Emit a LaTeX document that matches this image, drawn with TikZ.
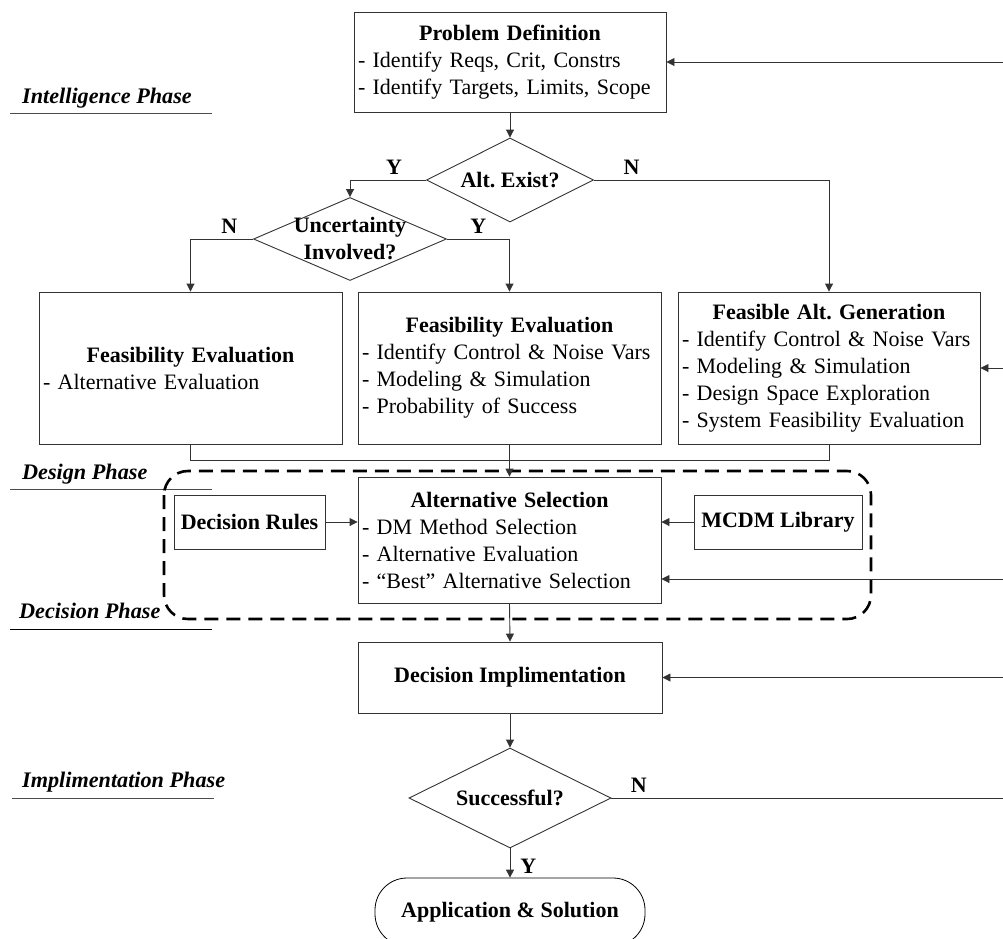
\documentclass[tikz,border=0pt]{standalone}
\usepackage{fontspec}
\setmainfont{Liberation Serif}
\usetikzlibrary{shapes.geometric,arrows.meta}
\setlength{\parindent}{0pt}
\frenchspacing
\newcommand{\boxhead}[1]{\makebox[\hsize]{\textbf{#1}}}

\begin{document}
\begin{tikzpicture}[x=1pt,y=-1pt,
    every node/.style={font=\fontsize{22}{27}\selectfont},
    stage/.style={draw=black!80,line width=0.9pt,inner xsep=4pt,inner ysep=0pt,align=left},
    diam/.style={draw=black!80,line width=0.9pt,shape=diamond,inner sep=0pt},
    phase/.style={anchor=base west,inner sep=0pt,font=\fontsize{22.2}{27}\selectfont\bfseries\itshape},
    arr/.style={draw=black!80,line width=0.9pt,-{Triangle[length=8pt,width=8pt]}},
    line/.style={draw=black!80,line width=0.9pt},
    yn/.style={font=\fontsize{22}{27}\selectfont\bfseries,inner sep=5pt}]
\clip (0,0) rectangle (1003,938);

\node[phase] (intel) at (22,103) {Intelligence Phase};
\node[phase] (design) at (22,479) {Design Phase};
\node[phase] (decis) at (19,618) {Decision Phase};
\node[phase] (implm) at (22,787) {Implimentation Phase};
\draw[black!70,line width=1pt] (10,113) -- (212,113);
\draw[black!70,line width=1pt] (10,489) -- (212,489);
\draw[black,line width=1pt] (10,629) -- (212,629);
\draw[black!70,line width=1pt] (12,798) -- (214,798);

\draw[line width=2.6pt,dash pattern=on 14pt off 8pt,rounded corners=24pt] (164,471) rectangle (871,619);

\node[stage,text width=304pt,minimum height=100pt] (pd) at (510,62)
  {\boxhead{Problem Definition}\\- Identify Reqs, Crit, Constrs\\- Identify Targets, Limits, Scope};
\node[diam,minimum width=167pt,minimum height=84pt,label={center:\textbf{Alt. Exist?}}] (altx) at (510,180) {};
\node[diam,minimum width=193pt,minimum height=83pt,
  label={[align=center]center:{\textbf{Uncertainty}\\\textbf{Involved?}}}] (unc) at (350,239) {};

\node[stage,text width=295pt,minimum height=152pt] (fe1) at (190.5,368)
  {\boxhead{Feasibility Evaluation}\\- Alternative Evaluation};
\node[stage,text width=295pt,minimum height=152pt] (fe2) at (509.5,368)
  {\boxhead{Feasibility Evaluation}\\- Identify Control \& Noise Vars\\- Modeling \& Simulation\\- Probability of Success};
\node[stage,text width=294pt,minimum height=152pt] (fag) at (829,368)
  {\boxhead{Feasible Alt. Generation}\\- Identify Control \& Noise Vars\\- Modeling \& Simulation\\- Design Space Exploration\\- System Feasibility Evaluation};

\node[stage,text width=295pt,minimum height=126pt] (sel) at (509.5,540)
  {\boxhead{Alternative Selection}\\- DM Method Selection\\- Alternative Evaluation\\- ``Best'' Alternative Selection};
\node[stage,align=center,minimum width=151pt,minimum height=54pt] (rules) at (249.5,522) {\textbf{Decision Rules}};
\node[stage,align=center,minimum width=168pt,minimum height=54pt] (lib) at (778,522) {\textbf{MCDM Library}};

\node[stage,align=center,minimum width=304pt,minimum height=71pt] (impl) at (510,677.5) {\textbf{Decision Implimentation}};
\node[diam,minimum width=202pt,minimum height=100pt,label={center:\textbf{Successful?}}] (succ) at (510,798) {};
\node[draw=black,line width=0.8pt,rounded corners=32pt,minimum width=270pt,minimum height=68pt] (app) at (510,912)
  {\textbf{Application \& Solution}};

\coordinate (r1) at (1004,62);
\coordinate (r2) at (1004,368);
\coordinate (r3) at (1004,579);
\coordinate (r4) at (1004,677.5);
\coordinate (r5) at (1004,798);

\draw[arr] (pd.south) -- (altx.north);
\draw[arr] (altx.west) -| node[yn,above,pos=0.21]{Y} (unc.north);
\draw[arr] (altx.east) -| node[yn,above,pos=0.08]{N} (fag.north);
\draw[arr] (unc.west) -| node[yn,above,pos=0.19]{N} (fe1.north);
\draw[arr] (unc.east) -| node[yn,above,pos=0.25]{Y} (fe2.north);
\draw[line] (fe1.south) -- ++(0,16) -| (fag.south);
\draw[arr] (fe2.south) -- (sel.north);
\draw[arr] (rules.east) -- (rules.east -| sel.west);
\draw[arr] (lib.west) -- (lib.west -| sel.east);
\draw[arr] (sel.south) -- (impl.north);
\draw[arr] (impl.south) -- (succ.north);
\draw[arr] (succ.south) -- node[yn,right,pos=0.6,inner xsep=10pt]{Y} (app.north);
\draw[line] (succ.east) -- node[yn,above,pos=0.07]{N} (r5);
\draw[arr] (r1) -- (pd.east);
\draw[arr] (r2) -- (fag.east);
\draw[arr] (r3) -- (r3 -| sel.east);
\draw[arr] (r4) -- (impl.east);
\end{tikzpicture}
\end{document}
